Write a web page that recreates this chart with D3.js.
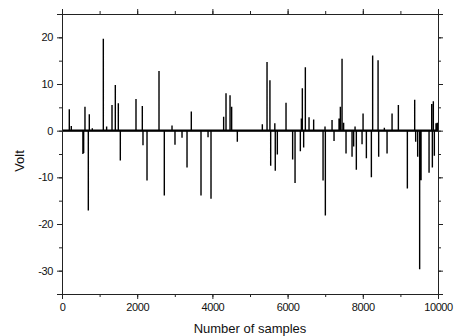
<!DOCTYPE html>
<html>
<head>
<meta charset="utf-8">
<script src="https://cdn.jsdelivr.net/npm/d3@7"></script>
<style>
  body { margin: 0; background: #fff; }
  svg { display: block; font-family: "Liberation Sans", Arial, sans-serif; }
</style>
</head>
<body>
<figure id="chart" style="margin:0"></figure>
<script>
// spike positions (sample number) and their amplitude (Volt)
const samples = [194, 247, 556, 576, 611, 700, 726, 806, 1099, 1187, 1330, 1418, 1498, 1551,
  1968, 2136, 2154, 2261, 2580, 2721, 2926, 3005, 3192, 3325, 3439, 3697, 3884, 3963,
  4299, 4362, 4469, 4512, 4663, 5328, 5453, 5530, 5550, 5660, 5672, 5727, 5958, 6134,
  6198, 6339, 6366, 6392, 6427, 6472, 6570, 6693, 6943, 6995, 7004, 7182, 7235, 7368,
  7403, 7448, 7490, 7554, 7714, 7757, 7794, 7828, 7980, 8007, 8095, 8228, 8262, 8406,
  8422, 8573, 8645, 8778, 8946, 9185, 9380, 9406, 9459, 9512, 9549, 9762, 9832, 9850,
  9876, 9903, 9947, 9982];
const volts = [4.6, 1.0, -5.0, -4.8, 5.1, -17.1, 3.5, 0.5, 19.7, 0.9, 5.5, 9.8, 5.9, -6.4,
  6.8, 5.3, -3.1, -10.7, 12.8, -13.9, 1.1, -3.0, -1.5, -7.9, 4.1, -13.9, -1.4, -14.6,
  3.0, 8.0, 7.6, 5.1, -2.4, 1.4, 14.7, 10.8, -7.5, 1.6, -8.6, -5.1, 6.0, -6.2,
  -11.2, -4.4, 2.6, 9.1, -3.6, 13.6, 2.9, 2.4, -10.7, 0.9, -18.2, 2.3, -2.2, 2.6,
  5.1, 15.4, 1.7, -4.9, -5.6, -3.4, 0.9, -8.4, -2.9, 3.7, -5.9, -10.0, 16.1, 15.1,
  -5.6, 0.6, -4.9, 3.7, 5.5, -12.4, 6.6, -2.4, -5.6, -29.7, -10.6, -9.0, 5.7, -7.9,
  6.3, -5.4, 1.6, 1.7];
const xTicks = [0, 2000, 4000, 6000, 8000, 10000];
const yTicks = [-30, -20, -10, 0, 10, 20];

const W = 455, H = 336;
const margin = { top: 14, right: 17, bottom: 42, left: 62 };
const width = W - margin.left - margin.right;
const height = H - margin.top - margin.bottom;

const svg = d3.select("#chart").append("svg")
  .attr("width", W).attr("height", H);
const g = svg.append("g")
  .attr("transform", "translate(" + margin.left + "," + margin.top + ")");

const x = d3.scaleLinear().domain([0, 10000]).range([0, width]);
const y = d3.scaleLinear().domain([-35, 25]).range([height, 0]);

// build signal: flat at zero with a spike at each sample
const pts = [[0, 0]];
samples.forEach((s, i) => { pts.push([s, 0], [s, volts[i]], [s, 0]); });
pts.push([10000, 0]);

g.append("line")
  .attr("x1", x(0)).attr("x2", x(10000))
  .attr("y1", y(0)).attr("y2", y(0))
  .attr("stroke", "#000").attr("stroke-width", 2.3);

g.append("path")
  .datum(pts)
  .attr("fill", "none")
  .attr("stroke", "#000")
  .attr("stroke-width", 1.4)
  .attr("d", d3.line().x(d => x(d[0])).y(d => y(d[1])));

// axes: major + minor ticks, mirrored on top/right
function styleAxis(sel) {
  sel.select(".domain").attr("stroke", "#222").attr("stroke-width", 1);
  sel.selectAll(".tick line").attr("stroke", "#222");
  sel.selectAll("text").attr("font-size", 11).attr("letter-spacing", "-0.4px").attr("fill", "#111");
}
const plain = d => String(d); // hyphen minus like the original
const xMinor = d3.range(0, 10001, 1000);
const yMinor = d3.range(-35, 26, 5);

g.append("g").attr("transform", "translate(0," + height + ")")
  .call(d3.axisBottom(x).tickValues(xMinor).tickSize(3).tickFormat(""))
  .call(styleAxis);
g.append("g").attr("transform", "translate(0," + height + ")")
  .call(d3.axisBottom(x).tickValues(xTicks).tickSize(5).tickPadding(4).tickFormat(plain))
  .call(styleAxis);
g.append("g")
  .call(d3.axisTop(x).tickValues(xMinor).tickSize(3).tickFormat(""))
  .call(styleAxis);
g.append("g")
  .call(d3.axisTop(x).tickValues(xTicks).tickSize(5).tickFormat(""))
  .call(styleAxis);

g.append("g")
  .call(d3.axisLeft(y).tickValues(yMinor).tickSize(3).tickFormat(""))
  .call(styleAxis);
g.append("g")
  .call(d3.axisLeft(y).tickValues(yTicks).tickSize(5).tickPadding(4).tickFormat(plain))
  .call(styleAxis);
g.append("g").attr("transform", "translate(" + width + ",0)")
  .call(d3.axisRight(y).tickValues(yMinor).tickSize(3).tickFormat(""))
  .call(styleAxis);
g.append("g").attr("transform", "translate(" + width + ",0)")
  .call(d3.axisRight(y).tickValues(yTicks).tickSize(5).tickFormat(""))
  .call(styleAxis);

// titles
svg.append("text")
  .attr("x", margin.left + width / 2).attr("y", 333)
  .attr("text-anchor", "middle").attr("font-size", 13).attr("fill", "#111")
  .text("Number of samples");
svg.append("text")
  .attr("transform", "translate(24,161) rotate(-90)")
  .attr("text-anchor", "middle").attr("font-size", 13).attr("fill", "#111")
  .text("Volt");
</script>
</body>
</html>
